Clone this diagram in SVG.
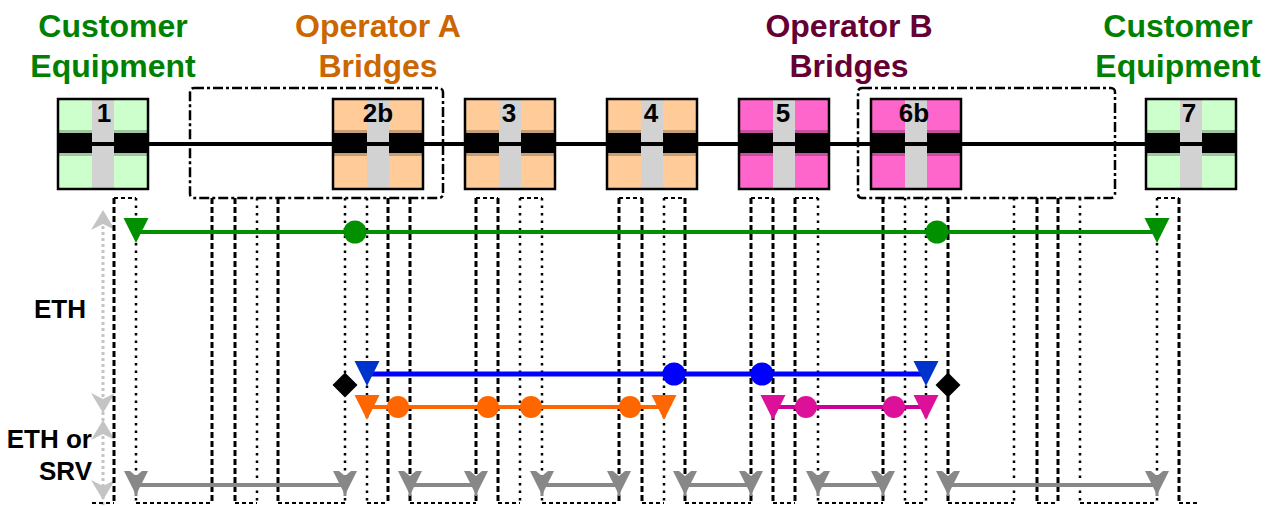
<svg xmlns="http://www.w3.org/2000/svg" width="1275" height="506" viewBox="0 0 1275 506">
<style>
.title{font-family:"Liberation Sans",Arial,sans-serif;font-weight:bold;font-size:32px;text-anchor:middle}
.lbl{font-family:"Liberation Sans",Arial,sans-serif;font-weight:bold;font-size:26px;text-anchor:end;fill:#000}
.num{font-family:"Liberation Sans",Arial,sans-serif;font-weight:bold;font-size:26px;text-anchor:middle;fill:#000}
.vd{stroke:#000;stroke-width:3;stroke-dasharray:6 3;fill:none}
.vt{stroke:#000;stroke-width:2.5;stroke-dasharray:2.5 5;fill:none}
.h{stroke:#000;stroke-width:2;stroke-dasharray:4 3;fill:none}
.grp{fill:none;stroke:#000;stroke-width:2.5;stroke-dasharray:10 3 3 3}
.green{fill:#009000}
.gline{stroke:#009000;stroke-width:4}
.blue{fill:#0000ff}
.bline{stroke:#0000ff;stroke-width:5}
.btri{fill:#0033cc}
.orange{fill:#ff6600}
.oline{stroke:#ff6600;stroke-width:4}
.mag{fill:#dd1199}
.mline{stroke:#cc0099;stroke-width:4}
.gray{fill:#888}
.grline{stroke:#888;stroke-width:4}
.axis{fill:#c4c4c4}
.axline{stroke:#c4c4c4;stroke-width:3;stroke-dasharray:3 3}
</style>
<defs>
  <g id="nodeCore">
    <rect x="0" y="130" width="90" height="3" fill="#000" fill-opacity="0.22"/>
    <rect x="0" y="153" width="90" height="3" fill="#000" fill-opacity="0.22"/>
    <rect x="0" y="133" width="90" height="20" fill="#000"/>
    <rect x="34" y="99" width="22" height="90" fill="#d2d2d2"/>
    <rect x="34" y="142" width="22" height="4" fill="#000"/>
    <rect x="0" y="99" width="90" height="90" fill="none" stroke="#000" stroke-width="2.5"/>
  </g>
  <polygon id="tri" points="-12.5,0 12.5,0 0,25"/>
  <polygon id="ghead" points="-12,0 -6,0 0,5 6,0 12,0 1.5,21 1.5,25 -1.5,25 -1.5,21"/>
  <polygon id="diamond" points="0,-12.5 12.5,0 0,12.5 -12.5,0"/>
</defs>
<rect width="1275" height="506" fill="#fff"/>

<!-- titles -->
<g id="titles">
  <text class="title" x="113" y="37" fill="#008000">Customer</text>
  <text class="title" x="113" y="77" fill="#008000">Equipment</text>
  <text class="title" x="378" y="37" fill="#cc6600">Operator A</text>
  <text class="title" x="378" y="77" fill="#cc6600">Bridges</text>
  <text class="title" x="849" y="37" fill="#660033">Operator B</text>
  <text class="title" x="849" y="77" fill="#660033">Bridges</text>
  <text class="title" x="1178" y="37" fill="#008000">Customer</text>
  <text class="title" x="1178" y="77" fill="#008000">Equipment</text>
</g>

<!-- layer labels and axis -->
<g id="layer-labels">
  <text class="lbl" x="86" y="318">ETH</text>
  <text class="lbl" x="92" y="448">ETH or</text>
  <text class="lbl" x="92" y="480">SRV</text>
</g>
<g id="axis">
  <line class="axline" x1="103" y1="226" x2="103" y2="506"/>
  <polygon class="axis" points="103,210 115,230 103,224 91,230"/>
  <polygon class="axis" points="103,413 115,393 103,399 91,393"/>
  <polygon class="axis" points="103,420 115,440 103,434 91,440"/>
  <polygon class="axis" points="103,500 115,480 103,486 91,480"/>
</g>

<!-- operator groups -->
<g id="group-A"><rect class="grp" x="190" y="88" width="253" height="110" rx="4"/></g>
<g id="group-B"><rect class="grp" x="858" y="88" width="257" height="110" rx="4"/></g>

<g id="connectors">
  <!-- main link -->
  <line x1="148" y1="144" x2="1147" y2="144" stroke="#000" stroke-width="4"/>
  <!-- serpentine processing paths: verticals -->
  <g>
    <line class="vd" x1="114" y1="198" x2="114" y2="503"/>
    <line class="vt" x1="136" y1="198" x2="136" y2="503"/>
    <line class="vd" x1="212" y1="198" x2="212" y2="503"/>
    <line class="vd" x1="235" y1="198" x2="235" y2="503"/>
    <line class="vt" x1="257" y1="198" x2="257" y2="503"/>
    <line class="vd" x1="278" y1="198" x2="278" y2="503"/>
    <line class="vt" x1="345" y1="198" x2="345" y2="503"/>
    <line class="vt" x1="367" y1="198" x2="367" y2="503"/>
    <line class="vd" x1="388" y1="198" x2="388" y2="503"/>
    <line class="vd" x1="410" y1="198" x2="410" y2="503"/>
    <line class="vd" x1="476" y1="198" x2="476" y2="503"/>
    <line class="vd" x1="498" y1="198" x2="498" y2="503"/>
    <line class="vt" x1="520" y1="198" x2="520" y2="503"/>
    <line class="vt" x1="542" y1="198" x2="542" y2="503"/>
    <line class="vd" x1="619" y1="198" x2="619" y2="503"/>
    <line class="vd" x1="642" y1="198" x2="642" y2="503"/>
    <line class="vt" x1="664" y1="198" x2="664" y2="503"/>
    <line class="vd" x1="685" y1="198" x2="685" y2="503"/>
    <line class="vd" x1="751" y1="198" x2="751" y2="503"/>
    <line class="vd" x1="773" y1="198" x2="773" y2="503"/>
    <line class="vd" x1="795" y1="198" x2="795" y2="503"/>
    <line class="vt" x1="818" y1="198" x2="818" y2="503"/>
    <line class="vd" x1="883" y1="198" x2="883" y2="503"/>
    <line class="vt" x1="905" y1="198" x2="905" y2="503"/>
    <line class="vt" x1="926" y1="198" x2="926" y2="503"/>
    <line class="vd" x1="948" y1="198" x2="948" y2="503"/>
    <line class="vt" x1="1014" y1="198" x2="1014" y2="503"/>
    <line class="vd" x1="1037" y1="198" x2="1037" y2="503"/>
    <line class="vd" x1="1058" y1="198" x2="1058" y2="503"/>
    <line class="vt" x1="1080" y1="198" x2="1080" y2="503"/>
    <line class="vt" x1="1157" y1="198" x2="1157" y2="503"/>
    <line class="vd" x1="1179" y1="198" x2="1179" y2="503"/>
  </g>
  <!-- top joins -->
  <g>
    <line class="h" x1="114" y1="198" x2="136" y2="198"/>
    <line class="h" x1="476" y1="198" x2="498" y2="198"/>
    <line class="h" x1="520" y1="198" x2="542" y2="198"/>
    <line class="h" x1="619" y1="198" x2="642" y2="198"/>
    <line class="h" x1="664" y1="198" x2="685" y2="198"/>
    <line class="h" x1="751" y1="198" x2="773" y2="198"/>
    <line class="h" x1="795" y1="198" x2="818" y2="198"/>
    <line class="h" x1="1157" y1="198" x2="1179" y2="198"/>
  </g>
  <!-- bottom joins -->
  <g>
    <line class="h" x1="92" y1="503" x2="114" y2="503"/>
    <line class="h" x1="136" y1="503" x2="212" y2="503"/>
    <line class="h" x1="235" y1="503" x2="257" y2="503"/>
    <line class="h" x1="278" y1="503" x2="345" y2="503"/>
    <line class="h" x1="367" y1="503" x2="388" y2="503"/>
    <line class="h" x1="410" y1="503" x2="476" y2="503"/>
    <line class="h" x1="498" y1="503" x2="520" y2="503"/>
    <line class="h" x1="542" y1="503" x2="619" y2="503"/>
    <line class="h" x1="642" y1="503" x2="664" y2="503"/>
    <line class="h" x1="685" y1="503" x2="751" y2="503"/>
    <line class="h" x1="773" y1="503" x2="795" y2="503"/>
    <line class="h" x1="818" y1="503" x2="883" y2="503"/>
    <line class="h" x1="905" y1="503" x2="926" y2="503"/>
    <line class="h" x1="948" y1="503" x2="1014" y2="503"/>
    <line class="h" x1="1037" y1="503" x2="1058" y2="503"/>
    <line class="h" x1="1080" y1="503" x2="1157" y2="503"/>
    <line class="h" x1="1179" y1="503" x2="1197" y2="503"/>
  </g>

  <!-- ETH customer flow (green) -->
  <g id="flow-green">
    <line class="gline" x1="136" y1="232" x2="1157" y2="232"/>
    <use href="#tri" class="green" x="136" y="218"/>
    <use href="#tri" class="green" x="1157" y="218"/>
    <circle class="green" cx="355" cy="232" r="11.5"/>
    <circle class="green" cx="937" cy="232" r="11.5"/>
  </g>
  <!-- blue flow -->
  <g id="flow-blue">
    <line class="bline" x1="367" y1="374" x2="926" y2="374"/>
    <use href="#tri" class="btri" x="367" y="361"/>
    <use href="#tri" class="btri" x="926" y="361"/>
    <circle class="blue" cx="674" cy="374" r="11.5"/>
    <circle class="blue" cx="762" cy="374" r="11.5"/>
  </g>
  <!-- diamonds -->
  <use href="#diamond" x="345" y="385"/>
  <use href="#diamond" x="948" y="385"/>
  <!-- orange flow -->
  <g id="flow-orange">
    <line class="oline" x1="367" y1="407" x2="664" y2="407"/>
    <use href="#tri" class="orange" x="367" y="395"/>
    <use href="#tri" class="orange" x="664" y="395"/>
    <circle class="orange" cx="398" cy="407" r="11"/>
    <circle class="orange" cx="488" cy="407" r="11"/>
    <circle class="orange" cx="531" cy="407" r="11"/>
    <circle class="orange" cx="630" cy="407" r="11"/>
  </g>
  <!-- magenta flow -->
  <g id="flow-magenta">
    <line class="mline" x1="773" y1="407" x2="926" y2="407"/>
    <use href="#tri" class="mag" x="773" y="395"/>
    <use href="#tri" class="mag" x="926" y="395"/>
    <circle class="mag" cx="806" cy="407" r="11"/>
    <circle class="mag" cx="894" cy="407" r="11"/>
  </g>
  <!-- gray link flows -->
  <g id="flow-gray">
    <line class="grline" x1="136" y1="485" x2="345" y2="485"/>
    <line class="grline" x1="410" y1="485" x2="476" y2="485"/>
    <line class="grline" x1="542" y1="485" x2="619" y2="485"/>
    <line class="grline" x1="685" y1="485" x2="751" y2="485"/>
    <line class="grline" x1="818" y1="485" x2="883" y2="485"/>
    <line class="grline" x1="948" y1="485" x2="1157" y2="485"/>
    <use href="#ghead" class="gray" x="136" y="471"/>
    <use href="#ghead" class="gray" x="345" y="471"/>
    <use href="#ghead" class="gray" x="410" y="471"/>
    <use href="#ghead" class="gray" x="476" y="471"/>
    <use href="#ghead" class="gray" x="542" y="471"/>
    <use href="#ghead" class="gray" x="619" y="471"/>
    <use href="#ghead" class="gray" x="685" y="471"/>
    <use href="#ghead" class="gray" x="751" y="471"/>
    <use href="#ghead" class="gray" x="818" y="471"/>
    <use href="#ghead" class="gray" x="883" y="471"/>
    <use href="#ghead" class="gray" x="948" y="471"/>
    <use href="#ghead" class="gray" x="1157" y="471"/>
  </g>
</g>

<!-- nodes -->
<g id="node-1">
  <rect x="58" y="99" width="90" height="90" fill="#ccffcc"/>
  <use href="#nodeCore" x="58"/>
  <text class="num" x="104" y="122">1</text>
</g>
<g id="node-2b">
  <rect x="333" y="99" width="90" height="90" fill="#ffcc99"/>
  <use href="#nodeCore" x="333"/>
  <text class="num" x="378" y="122">2b</text>
</g>
<g id="node-3">
  <rect x="465" y="99" width="90" height="90" fill="#ffcc99"/>
  <use href="#nodeCore" x="465"/>
  <text class="num" x="509" y="122">3</text>
</g>
<g id="node-4">
  <rect x="607" y="99" width="90" height="90" fill="#ffcc99"/>
  <use href="#nodeCore" x="607"/>
  <text class="num" x="651" y="122">4</text>
</g>
<g id="node-5">
  <rect x="739" y="99" width="90" height="90" fill="#ff66cc"/>
  <use href="#nodeCore" x="739"/>
  <text class="num" x="783" y="122">5</text>
</g>
<g id="node-6b">
  <rect x="871" y="99" width="90" height="90" fill="#ff66cc"/>
  <use href="#nodeCore" x="871"/>
  <text class="num" x="914" y="122">6b</text>
</g>
<g id="node-7">
  <rect x="1146" y="99" width="90" height="90" fill="#ccffcc"/>
  <use href="#nodeCore" x="1146"/>
  <text class="num" x="1189" y="122">7</text>
</g>
</svg>
